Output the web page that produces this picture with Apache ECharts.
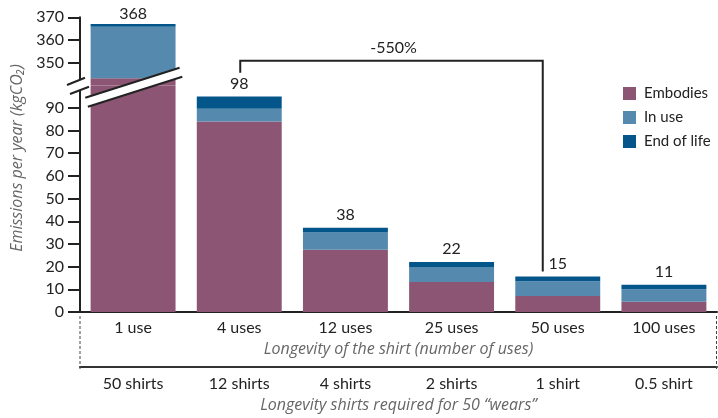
<!DOCTYPE html>
<html><head><meta charset="utf-8">
<script src="https://cdn.jsdelivr.net/npm/echarts@6/dist/echarts.min.js"></script>
<style>html,body{margin:0;padding:0;background:#fff}#c{width:718px;height:418px}</style>
</head><body><div id="c"></div>
<script>
// ---- data ----
const usesLabels   = ['1 use', '4 uses', '12 uses', '25 uses', '50 uses', '100 uses'];
const shirtsLabels = ['50 shirts', '12 shirts', '4 shirts', '2 shirts', '1 shirt', '0.5 shirt'];
const embodied  = [343, 84, 27.5, 13.2, 7.1, 4.5];
const inUse     = [22.8, 5.6, 7.5, 6.6, 6.5, 5.5];
const endOfLife = [1.2, 5.4, 2.2, 2.2, 2.0, 2.0];
const totals    = [368, 98, 38, 22, 15, 11];
const seriesNames = ['Embodies', 'In use', 'End of life'];
const changeLabel = '-550%';

const FONT = 'Lato, "Open Sans", sans-serif';
const IFONT = '"Open Sans", Lato, sans-serif';
const colors = ['#8C5573', '#5689AE', '#04568A'];
const dark = '#222';

const chart = echarts.init(document.getElementById('c'));
const valuesList = [embodied, inUse, endOfLife];

function makeSeries(gridIdx) {
  return valuesList.map((vals, k) => ({
    name: seriesNames[k],
    type: 'bar',
    stack: 'g' + gridIdx,
    xAxisIndex: gridIdx,
    yAxisIndex: gridIdx,
    barCategoryGap: '20%',
    clip: true,
    itemStyle: { color: colors[k] },
    data: vals,
    label: k === 2 ? {
      show: true, position: 'top', distance: gridIdx === 0 ? 2 : 5,
      fontFamily: FONT, fontSize: 16, color: dark,
      formatter: p => (gridIdx === 0 ? (p.dataIndex === 0 ? String(totals[0]) : '')
                                     : (p.dataIndex === 0 ? '' : String(totals[p.dataIndex])))
    } : { show: false }
  }));
}

const yAxisCommon = {
  type: 'value',
  interval: 10,
  axisLine: { show: true, lineStyle: { color: dark, width: 2 } },
  axisTick: { show: true, inside: false, length: 12, lineStyle: { color: dark, width: 2 } },
  splitLine: { show: false },
  axisLabel: { fontFamily: FONT, fontSize: 16, color: dark, margin: 16 }
};

const nameStyle = { fontFamily: IFONT, fontStyle: 'italic', fontSize: 16, color: '#666' };

const option = {
  animation: false,
  backgroundColor: '#fff',
  textStyle: { fontFamily: FONT },
  legend: {
    data: seriesNames,
    orient: 'vertical',
    left: 618, top: 81,
    itemWidth: 13, itemHeight: 13, itemGap: 9,
    icon: 'rect',
    textStyle: { fontFamily: FONT, fontSize: 15, color: dark, padding: [0, 0, 0, 3] }
  },
  grid: [
    { left: 80, right: 1, top: 17.3, height: 67.7 },
    { left: 80, right: 1, top: 85.2, height: 230.3 }
  ],
  xAxis: [
    { type: 'category', gridIndex: 0, data: usesLabels, show: false },
    {
      type: 'category', gridIndex: 1, data: usesLabels,
      axisLine: { lineStyle: { color: dark, width: 2 } },
      axisTick: { show: false },
      axisLabel: { fontFamily: FONT, fontSize: 16, color: dark, margin: 8 },
      name: 'Longevity of the shirt (number of uses)',
      nameLocation: 'middle', nameGap: 29,
      nameTextStyle: nameStyle
    },
    {
      type: 'category', gridIndex: 1, data: shirtsLabels, position: 'bottom', offset: 55,
      axisLine: { lineStyle: { color: '#333', width: 2 } },
      axisTick: { show: false },
      axisLabel: { fontFamily: FONT, fontSize: 16, color: dark, margin: 9 },
      name: 'Longevity shirts required for 50 \u201cwears\u201d',
      nameLocation: 'middle', nameGap: 30,
      nameTextStyle: nameStyle
    }
  ],
  yAxis: [
    Object.assign({}, yAxisCommon, {
      gridIndex: 0, min: 340, max: 370,
      axisLabel: Object.assign({}, yAxisCommon.axisLabel, { formatter: v => (v === 340 ? '' : v) })
    }),
    Object.assign({}, yAxisCommon, {
      gridIndex: 1, min: 0, max: 100,
      axisLabel: Object.assign({}, yAxisCommon.axisLabel, { formatter: v => (v === 100 ? '' : v) })
    })
  ],
  series: makeSeries(0).concat(makeSeries(1))
};
chart.setOption(option);

// ---- annotations ----
const cx = i => chart.convertToPixel({ xAxisIndex: 1 }, i);
const x0 = cx(0), x1 = cx(1), x4 = cx(4);
const bracketTop = 60.7;
const leftX = x1 + 1, rightX = x4 - 15;
const breakStroke = { stroke: '#222', lineWidth: 2 };

chart.setOption({
  graphic: [
    // y-axis break
    { type: 'polygon', z: 100, shape: { points: [[67,85],[85,77.7],[89,86.7],[70,94]] }, style: { fill: '#fff' } },
    { type: 'line', z: 101, shape: { x1: 67, y1: 85, x2: 85, y2: 77.7 }, style: breakStroke },
    { type: 'line', z: 101, shape: { x1: 70, y1: 94, x2: 89, y2: 86.7 }, style: breakStroke },
    // bar break
    { type: 'polygon', z: 100, shape: { points: [[x0-47.8,97.7],[x0+46.5,67.7],[x0+49.2,76.7],[x0-45.2,106.7]] }, style: { fill: '#fff' } },
    { type: 'line', z: 101, shape: { x1: x0-47.8, y1: 97.7, x2: x0+46.5, y2: 67.7 }, style: breakStroke },
    { type: 'line', z: 101, shape: { x1: x0-45.2, y1: 106.7, x2: x0+49.2, y2: 76.7 }, style: breakStroke },
    // bracket
    { type: 'polyline', z: 50, shape: { points: [[leftX, 72.7],[leftX, bracketTop],[rightX, bracketTop],[rightX, 271.5]] },
      style: { stroke: '#222', lineWidth: 2, fill: null } },
    { type: 'text', z: 50, x: (leftX + rightX) / 2 + 2, y: 47.5,
      style: { text: changeLabel, fontFamily: FONT, fontSize: 16, fill: dark, align: 'center', verticalAlign: 'middle' } },
    // dashed box sides
    { type: 'line', z: 50, shape: { x1: 80, y1: 316, x2: 80, y2: 369 }, style: { stroke: '#444', lineWidth: 1, lineDash: [3, 2] } },
    { type: 'line', z: 50, shape: { x1: 716.5, y1: 316, x2: 716.5, y2: 369 }, style: { stroke: '#444', lineWidth: 1, lineDash: [3, 2] } },
    // y-axis title
    { type: 'text', z: 50, x: 17, y: 158, rotation: Math.PI / 2,
      style: { text: 'Emissions per year (kgCO\u2082)', fontFamily: IFONT, fontStyle: 'italic', fontSize: 16, fill: '#666', align: 'center', verticalAlign: 'middle' } }
  ]
});
</script>
</body></html>
